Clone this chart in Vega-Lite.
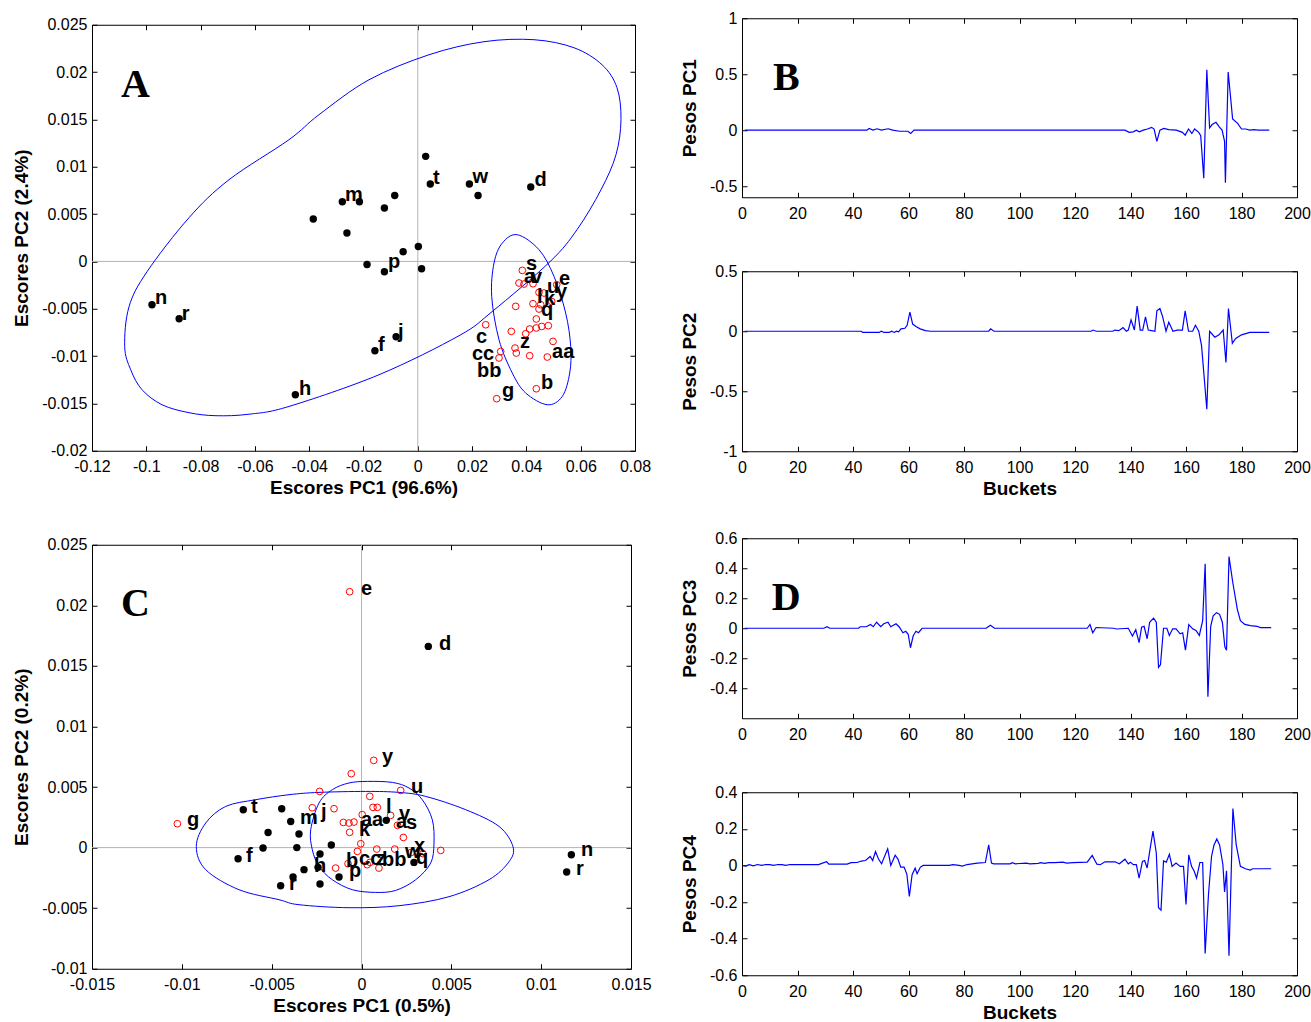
{
  "$schema": "https://vega.github.io/schema/vega-lite/v6.json",
  "padding": {"left": 12, "top": 9, "right": 0, "bottom": 0},
  "background": "white",
  "config": {
    "view": {"stroke": "#000", "strokeWidth": 1},
    "axis": {"domain": false, "grid": false, "ticks": true, "tickSize": -5, "tickColor": "#000", "tickWidth": 1,
      "labelFont": "Liberation Sans", "labelFontSize": 16, "labelColor": "#000",
      "titleFont": "Liberation Sans", "titleFontSize": 19, "titleFontWeight": "bold", "titleColor": "#000",
      "labelFlush": false, "labelOverlap": false},
    "axisX": {"labelPadding": 13, "titlePadding": 4},
    "axisY": {"labelPadding": 10, "titlePadding": 10}
  },
  "datasets": {
    "zero": [{"v": 0}],
    "A_black": [
      {"x": -0.0979, "y": -0.00457}, {"x": -0.0879, "y": -0.00605}, {"x": -0.0451, "y": -0.01408},
      {"x": -0.0158, "y": -0.00943}, {"x": -0.0080, "y": -0.00795}, {"x": -0.0278, "y": 0.0063},
      {"x": -0.0215, "y": 0.0063}, {"x": -0.0385, "y": 0.00448}, {"x": -0.0261, "y": 0.0030},
      {"x": -0.0123, "y": 0.00564}, {"x": -0.0085, "y": 0.00697}, {"x": 0.0029, "y": 0.0111},
      {"x": 0.0046, "y": 0.00818}, {"x": 0.0190, "y": 0.00818}, {"x": 0.0222, "y": 0.00697},
      {"x": 0.0416, "y": 0.00786}, {"x": 0.0002, "y": 0.00158}, {"x": -0.0054, "y": 0.00102},
      {"x": -0.0187, "y": -0.00032}, {"x": -0.0123, "y": -0.00109}, {"x": 0.0014, "y": -0.00077}
    ],
    "A_red": [
      {"x": 0.0385, "y": -0.00095}, {"x": 0.03727, "y": -0.00228}, {"x": 0.03912, "y": -0.00239},
      {"x": 0.04243, "y": -0.00236}, {"x": 0.04464, "y": -0.00327}, {"x": 0.04648, "y": -0.00334},
      {"x": 0.05116, "y": -0.00246}, {"x": 0.04243, "y": -0.00447}, {"x": 0.04527, "y": -0.00457},
      {"x": 0.04932, "y": -0.00423}, {"x": 0.03606, "y": -0.00475}, {"x": 0.04464, "y": -0.00503},
      {"x": 0.04365, "y": -0.00608}, {"x": 0.02501, "y": -0.00669}, {"x": 0.03444, "y": -0.00739},
      {"x": 0.04122, "y": -0.00714}, {"x": 0.04365, "y": -0.00703}, {"x": 0.04564, "y": -0.00687},
      {"x": 0.04807, "y": -0.00679}, {"x": 0.03974, "y": -0.00764}, {"x": 0.0498, "y": -0.00845},
      {"x": 0.0358, "y": -0.00915}, {"x": 0.03628, "y": -0.00968}, {"x": 0.03053, "y": -0.00951},
      {"x": 0.02991, "y": -0.0102}, {"x": 0.04122, "y": -0.00996}, {"x": 0.0477, "y": -0.0101},
      {"x": 0.04365, "y": -0.01345}, {"x": 0.02906, "y": -0.0145}
    ],
    "A_ell": [
      {"e": "g", "i": 1, "x": -0.10796, "y": -0.00898}, {"e": "g", "i": 2, "x": -0.10575, "y": -0.01144},
      {"e": "g", "i": 3, "x": -0.10158, "y": -0.01355}, {"e": "g", "i": 4, "x": -0.09422, "y": -0.01514},
      {"e": "g", "i": 5, "x": -0.08427, "y": -0.01598}, {"e": "g", "i": 6, "x": -0.07433, "y": -0.0163},
      {"e": "g", "i": 7, "x": -0.06217, "y": -0.01614}, {"e": "g", "i": 8, "x": -0.04744, "y": -0.01532},
      {"e": "g", "i": 9, "x": -0.01429, "y": -0.01197}, {"e": "g", "i": 10, "x": 0.01517, "y": -0.00785},
      {"e": "g", "i": 11, "x": 0.02733, "y": -0.00531}, {"e": "g", "i": 12, "x": 0.04869, "y": -0.00003},
      {"e": "g", "i": 13, "x": 0.05864, "y": 0.00335}, {"e": "g", "i": 14, "x": 0.06748, "y": 0.00757},
      {"e": "g", "i": 15, "x": 0.0730, "y": 0.01127}, {"e": "g", "i": 16, "x": 0.07484, "y": 0.01497},
      {"e": "g", "i": 17, "x": 0.07337, "y": 0.01835}, {"e": "g", "i": 18, "x": 0.06785, "y": 0.02078},
      {"e": "g", "i": 19, "x": 0.05753, "y": 0.02257}, {"e": "g", "i": 20, "x": 0.0428, "y": 0.02342},
      {"e": "g", "i": 21, "x": 0.02438, "y": 0.02321}, {"e": "g", "i": 22, "x": 0.00413, "y": 0.02183},
      {"e": "g", "i": 23, "x": -0.01797, "y": 0.01919}, {"e": "g", "i": 24, "x": -0.03639, "y": 0.0155},
      {"e": "g", "i": 25, "x": -0.04744, "y": 0.01286}, {"e": "g", "i": 26, "x": -0.06954, "y": 0.00863},
      {"e": "g", "i": 27, "x": -0.08427, "y": 0.00462}, {"e": "g", "i": 28, "x": -0.09974, "y": -0.00109},
      {"e": "g", "i": 29, "x": -0.10637, "y": -0.00479},
      {"e": "s", "i": 1, "x": 0.03665, "y": 0.00282}, {"e": "s", "i": 2, "x": 0.04464, "y": 0.00124},
      {"e": "s", "i": 3, "x": 0.05017, "y": -0.00158}, {"e": "s", "i": 4, "x": 0.05447, "y": -0.00545},
      {"e": "s", "i": 5, "x": 0.05632, "y": -0.00898}, {"e": "s", "i": 6, "x": 0.05595, "y": -0.01179},
      {"e": "s", "i": 7, "x": 0.05322, "y": -0.01426}, {"e": "s", "i": 8, "x": 0.0477, "y": -0.01514},
      {"e": "s", "i": 9, "x": 0.03974, "y": -0.0139}, {"e": "s", "i": 10, "x": 0.03481, "y": -0.01179},
      {"e": "s", "i": 11, "x": 0.02991, "y": -0.00827}, {"e": "s", "i": 12, "x": 0.02722, "y": -0.0037},
      {"e": "s", "i": 13, "x": 0.02807, "y": -0.00017}, {"e": "s", "i": 14, "x": 0.03112, "y": 0.00194}
    ],
    "A_lab": [
      {"t": "n", "x": -0.0968, "y": -0.00447}, {"t": "r", "x": -0.0869, "y": -0.00616},
      {"t": "h", "x": -0.04376, "y": -0.01408}, {"t": "f", "x": -0.01466, "y": -0.00943},
      {"t": "j", "x": -0.00729, "y": -0.00806}, {"t": "m", "x": -0.02681, "y": 0.00641},
      {"t": "p", "x": -0.01098, "y": -0.00067}, {"t": "t", "x": 0.0056, "y": 0.00821},
      {"t": "w", "x": 0.02011, "y": 0.00831}, {"t": "d", "x": 0.04302, "y": 0.008},
      {"t": "s", "x": 0.03985, "y": -0.00088}, {"t": "a", "x": 0.03911, "y": -0.00225},
      {"t": "v", "x": 0.04169, "y": -0.00225}, {"t": "e", "x": 0.05201, "y": -0.00246},
      {"t": "u", "x": 0.04758, "y": -0.00331}, {"t": "y", "x": 0.0509, "y": -0.00383},
      {"t": "l", "x": 0.0439, "y": -0.00436}, {"t": "k", "x": 0.04648, "y": -0.00457},
      {"t": "q", "x": 0.04538, "y": -0.00574}, {"t": "c", "x": 0.02144, "y": -0.00859},
      {"t": "cc", "x": 0.01996, "y": -0.01038}, {"t": "bb", "x": 0.0218, "y": -0.01218},
      {"t": "g", "x": 0.03101, "y": -0.01429}, {"t": "z", "x": 0.03764, "y": -0.00912},
      {"t": "aa", "x": 0.04943, "y": -0.01017}, {"t": "b", "x": 0.04538, "y": -0.01345}
    ],
    "A_tag": [{"t": "A", "x": -0.1093, "y": 0.0174}],
    "C_black": [
      {"x": -0.00658, "y": 0.00313}, {"x": -0.00444, "y": 0.00321}, {"x": -0.00394, "y": 0.00216},
      {"x": -0.0052, "y": 0.00125}, {"x": -0.00348, "y": 0.00112}, {"x": -0.00687, "y": -0.00092},
      {"x": -0.00548, "y": -0.00003}, {"x": -0.0036, "y": 0.0}, {"x": -0.00168, "y": 0.00021},
      {"x": -0.00231, "y": -0.00053}, {"x": -0.00242, "y": -0.00163}, {"x": -0.0032, "y": -0.00182},
      {"x": -0.00381, "y": -0.00243}, {"x": -0.0045, "y": -0.00315}, {"x": -0.00231, "y": -0.003},
      {"x": -0.00125, "y": -0.00243}, {"x": 0.00138, "y": 0.00225}, {"x": 0.00292, "y": -0.00122},
      {"x": 0.00372, "y": 0.01661}, {"x": 0.01168, "y": -0.00059}, {"x": 0.01142, "y": -0.00201}
    ],
    "C_red": [
      {"x": -0.01025, "y": 0.00197}, {"x": -0.00233, "y": 0.00464}, {"x": -0.00274, "y": 0.00329},
      {"x": -0.00153, "y": 0.00321}, {"x": -0.00144, "y": -0.00169}, {"x": -0.00066, "y": 0.02112},
      {"x": 0.00068, "y": 0.0072}, {"x": -0.00057, "y": 0.0061}, {"x": 0.00218, "y": 0.00472},
      {"x": 0.00046, "y": 0.00423}, {"x": 0.00064, "y": 0.00332}, {"x": 0.00088, "y": 0.00332},
      {"x": 0.00162, "y": 0.00266}, {"x": 0.00004, "y": 0.00272}, {"x": -0.00101, "y": 0.00208},
      {"x": -0.0007, "y": 0.00203}, {"x": -0.00042, "y": 0.00211}, {"x": -0.00066, "y": 0.00126},
      {"x": 0.002, "y": 0.00184}, {"x": 0.00233, "y": 0.00084}, {"x": -0.00004, "y": 0.00032},
      {"x": 0.00441, "y": -0.00023}, {"x": -0.00023, "y": -0.00031}, {"x": 0.00085, "y": -0.00012},
      {"x": 0.00185, "y": -0.00012}, {"x": 0.00277, "y": -0.0004}, {"x": 0.00342, "y": -0.0005},
      {"x": 0.00047, "y": -0.00122}, {"x": 0.00032, "y": -0.00141}, {"x": 0.00097, "y": -0.00169},
      {"x": -0.00075, "y": -0.00133}
    ],
    "C_ell": [
      {"e": "g", "i": 1, "x": -0.009195, "y": 0.0001}, {"e": "g", "i": 2, "x": -0.008671, "y": 0.00203},
      {"e": "g", "i": 3, "x": -0.007558, "y": 0.0034}, {"e": "g", "i": 4, "x": -0.005889, "y": 0.003954},
      {"e": "g", "i": 5, "x": -0.004035, "y": 0.004367}, {"e": "g", "i": 6, "x": -0.002365, "y": 0.004557},
      {"e": "g", "i": 7, "x": 0.000234, "y": 0.004639}, {"e": "g", "i": 8, "x": 0.002087, "y": 0.004557},
      {"e": "g", "i": 9, "x": 0.003573, "y": 0.004227}, {"e": "g", "i": 10, "x": 0.0058, "y": 0.003129},
      {"e": "g", "i": 11, "x": 0.007653, "y": 0.00175}, {"e": "g", "i": 12, "x": 0.008432, "y": 0.000074},
      {"e": "g", "i": 13, "x": 0.00821, "y": -0.001164}, {"e": "g", "i": 14, "x": 0.007096, "y": -0.00265},
      {"e": "g", "i": 15, "x": 0.00487, "y": -0.004053}, {"e": "g", "i": 16, "x": 0.002087, "y": -0.004796},
      {"e": "g", "i": 17, "x": -0.000696, "y": -0.004961}, {"e": "g", "i": 18, "x": -0.003479, "y": -0.004714},
      {"e": "g", "i": 19, "x": -0.004592, "y": -0.004301}, {"e": "g", "i": 20, "x": -0.006818, "y": -0.003475},
      {"e": "g", "i": 21, "x": -0.008671, "y": -0.001824},
      {"e": "s", "i": 1, "x": 0.000323, "y": 0.005465}, {"e": "s", "i": 2, "x": 0.001714, "y": 0.005382},
      {"e": "s", "i": 3, "x": 0.002644, "y": 0.00492}, {"e": "s", "i": 4, "x": 0.003384, "y": 0.003954},
      {"e": "s", "i": 5, "x": 0.003941, "y": 0.002303}, {"e": "s", "i": 6, "x": 0.004035, "y": 0.00038},
      {"e": "s", "i": 7, "x": 0.003852, "y": -0.001271}, {"e": "s", "i": 8, "x": 0.003017, "y": -0.00265},
      {"e": "s", "i": 9, "x": 0.001903, "y": -0.003533}, {"e": "s", "i": 10, "x": 0.00079, "y": -0.003698},
      {"e": "s", "i": 11, "x": -0.000512, "y": -0.003475}, {"e": "s", "i": 12, "x": -0.001625, "y": -0.00265},
      {"e": "s", "i": 13, "x": -0.002365, "y": -0.001552}, {"e": "s", "i": 14, "x": -0.002738, "y": -0.000173},
      {"e": "s", "i": 15, "x": -0.002827, "y": 0.001478}, {"e": "s", "i": 16, "x": -0.002365, "y": 0.003682},
      {"e": "s", "i": 17, "x": -0.001625, "y": 0.00478}, {"e": "s", "i": 18, "x": -0.000696, "y": 0.005333}
    ],
    "C_lab": [
      {"t": "g", "x": -0.009713, "y": 0.001808}, {"t": "t", "x": -0.00615, "y": 0.002881},
      {"t": "m", "x": -0.003423, "y": 0.001973}, {"t": "j", "x": -0.002254, "y": 0.002469},
      {"t": "f", "x": -0.006428, "y": -0.001164}, {"t": "h", "x": -0.002644, "y": -0.001989},
      {"t": "r", "x": -0.004035, "y": -0.003475}, {"t": "e", "x": -0.000028, "y": 0.020876},
      {"t": "d", "x": 0.004314, "y": 0.016339}, {"t": "y", "x": 0.001141, "y": 0.007009},
      {"t": "u", "x": 0.002755, "y": 0.004532}, {"t": "l", "x": 0.001364, "y": 0.002881},
      {"t": "v", "x": 0.002087, "y": 0.002303}, {"t": "a", "x": 0.00192, "y": 0.001644},
      {"t": "s", "x": 0.002477, "y": 0.00156}, {"t": "aa", "x": -0.000028, "y": 0.001808},
      {"t": "k", "x": -0.000139, "y": 0.000983}, {"t": "x", "x": 0.002922, "y": -0.000338},
      {"t": "w", "x": 0.002421, "y": -0.000834}, {"t": "q", "x": 0.003033, "y": -0.001329},
      {"t": "cc", "x": -0.000139, "y": -0.001412}, {"t": "z", "x": 0.000807, "y": -0.001412},
      {"t": "bb", "x": 0.001141, "y": -0.001486}, {"t": "b", "x": -0.000863, "y": -0.001569},
      {"t": "p", "x": -0.000696, "y": -0.002394}, {"t": "n", "x": 0.012217, "y": -0.000669},
      {"t": "r", "x": 0.011939, "y": -0.002237}
    ],
    "C_tag": [{"t": "C", "x": -0.01339, "y": 0.01914}],
    "B_tag": [{"t": "B", "b": 11.2, "v": 0.362}],
    "D_tag": [{"t": "D", "b": 10.75, "v": 0.12}],
    "B1": [
      {"b": 1, "v": 0}, {"b": 45, "v": 0}, {"b": 45.8, "v": 0.015}, {"b": 47.2, "v": 0}, {"b": 48.7, "v": 0.012},
      {"b": 50.2, "v": 0}, {"b": 52.7, "v": 0.012}, {"b": 54.3, "v": 0}, {"b": 56.8, "v": -0.01}, {"b": 59.8, "v": -0.01},
      {"b": 60.8, "v": -0.03}, {"b": 62, "v": 0}, {"b": 138, "v": 0}, {"b": 139.5, "v": -0.02}, {"b": 141, "v": -0.015},
      {"b": 142.1, "v": 0}, {"b": 143.2, "v": -0.015}, {"b": 144.6, "v": 0}, {"b": 146.1, "v": 0.01}, {"b": 147.6, "v": 0.025},
      {"b": 148.5, "v": 0.01}, {"b": 149.5, "v": -0.1}, {"b": 150.6, "v": 0}, {"b": 152, "v": 0.015}, {"b": 153.8, "v": 0.005},
      {"b": 156.5, "v": 0}, {"b": 158.7, "v": -0.02}, {"b": 159.7, "v": -0.045}, {"b": 160.9, "v": 0.01}, {"b": 162.1, "v": -0.03},
      {"b": 163.1, "v": 0.01}, {"b": 164.6, "v": -0.02}, {"b": 165.3, "v": -0.05}, {"b": 166.4, "v": -0.43}, {"b": 167.5, "v": 0.54},
      {"b": 168.5, "v": 0.02}, {"b": 169.4, "v": 0.05}, {"b": 170.8, "v": 0.07}, {"b": 172, "v": 0.03}, {"b": 173, "v": 0},
      {"b": 173.9, "v": -0.1}, {"b": 174.2, "v": -0.47}, {"b": 175.2, "v": 0.52}, {"b": 176.8, "v": 0.1}, {"b": 178.6, "v": 0.06},
      {"b": 180, "v": 0.01}, {"b": 181.5, "v": 0.01}, {"b": 183, "v": 0}, {"b": 184.5, "v": 0.005}, {"b": 186, "v": 0}, {"b": 190, "v": 0}
    ],
    "B2": [
      {"b": 1, "v": 0}, {"b": 43, "v": 0}, {"b": 43.5, "v": -0.01}, {"b": 49.4, "v": -0.01}, {"b": 50.2, "v": 0},
      {"b": 51.2, "v": -0.01}, {"b": 53.1, "v": -0.01}, {"b": 53.9, "v": 0}, {"b": 54.9, "v": -0.01}, {"b": 55.6, "v": 0},
      {"b": 56.4, "v": -0.005}, {"b": 57.3, "v": 0.02}, {"b": 58.7, "v": 0.025}, {"b": 59.5, "v": 0.05}, {"b": 60.5, "v": 0.16},
      {"b": 61.5, "v": 0.06}, {"b": 62.7, "v": 0.04}, {"b": 64.2, "v": 0.02}, {"b": 66.1, "v": 0.005}, {"b": 67.9, "v": 0},
      {"b": 88.9, "v": 0}, {"b": 89.6, "v": 0.02}, {"b": 90.8, "v": 0}, {"b": 125.8, "v": 0}, {"b": 126.5, "v": 0.01},
      {"b": 127.7, "v": 0}, {"b": 133.6, "v": 0}, {"b": 134.3, "v": 0.01}, {"b": 135.8, "v": 0.005}, {"b": 137.3, "v": 0.03},
      {"b": 138.5, "v": 0}, {"b": 139.2, "v": 0.01}, {"b": 140.2, "v": 0.095}, {"b": 141.4, "v": 0.01}, {"b": 142.4, "v": 0.21},
      {"b": 143.5, "v": 0.01}, {"b": 144.4, "v": 0.01}, {"b": 145.4, "v": 0.12}, {"b": 146.4, "v": 0.01}, {"b": 147.6, "v": 0.005},
      {"b": 148.8, "v": 0}, {"b": 149.5, "v": 0.17}, {"b": 150.6, "v": 0.19}, {"b": 151.6, "v": 0.12}, {"b": 152.8, "v": 0},
      {"b": 153.8, "v": 0.075}, {"b": 155.3, "v": 0}, {"b": 156.8, "v": 0.01}, {"b": 158.7, "v": 0.01}, {"b": 159.7, "v": 0.17},
      {"b": 160.9, "v": 0}, {"b": 162.4, "v": 0}, {"b": 163.4, "v": 0.05}, {"b": 164.6, "v": 0}, {"b": 165.6, "v": -0.12},
      {"b": 167.5, "v": -0.65}, {"b": 168.5, "v": 0}, {"b": 170.4, "v": -0.05}, {"b": 171.9, "v": -0.03}, {"b": 173.4, "v": 0.01},
      {"b": 174.4, "v": -0.26}, {"b": 175.3, "v": 0.19}, {"b": 176.7, "v": -0.1}, {"b": 177.9, "v": -0.06}, {"b": 180, "v": -0.03},
      {"b": 183, "v": -0.01}, {"b": 190, "v": -0.01}
    ],
    "D1": [
      {"b": 1, "v": 0}, {"b": 29.5, "v": 0}, {"b": 30.6, "v": 0.01}, {"b": 31.6, "v": 0}, {"b": 42, "v": 0},
      {"b": 42.6, "v": 0.01}, {"b": 44.8, "v": 0.01}, {"b": 46.3, "v": 0.025}, {"b": 47.3, "v": 0.01}, {"b": 48.5, "v": 0.04},
      {"b": 50, "v": 0.01}, {"b": 51.1, "v": 0.03}, {"b": 52.6, "v": 0.04}, {"b": 53.6, "v": 0.01}, {"b": 55.5, "v": 0.03},
      {"b": 56.6, "v": 0.01}, {"b": 58, "v": -0.03}, {"b": 59, "v": -0.02}, {"b": 59.9, "v": -0.04}, {"b": 60.7, "v": -0.13},
      {"b": 61.7, "v": -0.05}, {"b": 62.7, "v": -0.02}, {"b": 63.6, "v": -0.03}, {"b": 64.9, "v": 0}, {"b": 88, "v": 0},
      {"b": 89.5, "v": 0.02}, {"b": 91, "v": 0}, {"b": 124.4, "v": 0}, {"b": 125.4, "v": 0.025}, {"b": 126.4, "v": -0.03},
      {"b": 127.6, "v": 0.005}, {"b": 133.8, "v": 0}, {"b": 135, "v": -0.005}, {"b": 139.2, "v": 0}, {"b": 140.7, "v": -0.052},
      {"b": 141.9, "v": -0.01}, {"b": 143.1, "v": -0.096}, {"b": 144, "v": 0.007}, {"b": 144.9, "v": 0.013}, {"b": 146, "v": -0.07},
      {"b": 146.9, "v": 0.04}, {"b": 148.3, "v": 0.067}, {"b": 149.3, "v": 0.04}, {"b": 150.1, "v": -0.26}, {"b": 150.8, "v": -0.243},
      {"b": 151.9, "v": 0}, {"b": 153.1, "v": 0}, {"b": 154, "v": -0.048}, {"b": 155.2, "v": -0.004}, {"b": 156.4, "v": -0.004},
      {"b": 157.9, "v": -0.037}, {"b": 158.8, "v": -0.03}, {"b": 159.8, "v": -0.146}, {"b": 161, "v": 0.024}, {"b": 162.4, "v": -0.004},
      {"b": 163.6, "v": -0.015}, {"b": 164.8, "v": -0.048}, {"b": 166, "v": 0.05}, {"b": 166.9, "v": 0.43}, {"b": 167.9, "v": -0.457},
      {"b": 168.9, "v": 0.013}, {"b": 169.8, "v": 0.083}, {"b": 171, "v": 0.104}, {"b": 172.1, "v": 0.093}, {"b": 173.1, "v": 0.04},
      {"b": 174, "v": -0.124}, {"b": 174.6, "v": -0.146}, {"b": 175.5, "v": 0.478}, {"b": 176.9, "v": 0.3}, {"b": 178.5, "v": 0.126},
      {"b": 179.6, "v": 0.05}, {"b": 181.2, "v": 0.026}, {"b": 183.2, "v": 0.017}, {"b": 185.6, "v": 0.013}, {"b": 186.8, "v": 0.004},
      {"b": 190.7, "v": 0.004}
    ],
    "D2": [
      {"b": 0.5, "v": 0}, {"b": 1.2, "v": -0.004}, {"b": 2.6, "v": 0.004}, {"b": 4.1, "v": -0.002}, {"b": 5.6, "v": 0.005},
      {"b": 7, "v": 0}, {"b": 8.5, "v": 0.005}, {"b": 10, "v": 0.004}, {"b": 11.4, "v": 0}, {"b": 12.9, "v": 0.005},
      {"b": 14.4, "v": 0.004}, {"b": 15.8, "v": 0}, {"b": 17.3, "v": 0.005}, {"b": 27.6, "v": 0.005}, {"b": 29, "v": 0.013},
      {"b": 30.5, "v": 0.02}, {"b": 31.3, "v": 0.007}, {"b": 37.9, "v": 0.007}, {"b": 39.3, "v": 0.015}, {"b": 41.5, "v": 0.016},
      {"b": 43, "v": 0.024}, {"b": 44.5, "v": 0.027}, {"b": 46.2, "v": 0.049}, {"b": 47.1, "v": 0.027}, {"b": 48.1, "v": 0.076},
      {"b": 49.2, "v": 0.035}, {"b": 50.3, "v": 0.009}, {"b": 52.5, "v": 0.091}, {"b": 53.6, "v": 0}, {"b": 55.2, "v": 0.056},
      {"b": 56.2, "v": 0.035}, {"b": 57.2, "v": -0.009}, {"b": 58.4, "v": -0.009}, {"b": 59.4, "v": -0.047}, {"b": 60.3, "v": -0.169},
      {"b": 61.3, "v": -0.051}, {"b": 62.4, "v": -0.015}, {"b": 63.1, "v": -0.045}, {"b": 64.3, "v": -0.009}, {"b": 65.3, "v": 0},
      {"b": 74.8, "v": 0}, {"b": 76, "v": 0.004}, {"b": 78.2, "v": 0}, {"b": 79.4, "v": -0.004}, {"b": 81.1, "v": 0.005},
      {"b": 84.8, "v": 0.013}, {"b": 87.7, "v": 0.016}, {"b": 88.9, "v": 0.113}, {"b": 89.9, "v": 0.013}, {"b": 90.7, "v": 0.009},
      {"b": 96.6, "v": 0.009}, {"b": 97.4, "v": 0.015}, {"b": 98.5, "v": 0.009}, {"b": 102.4, "v": 0.013}, {"b": 103.8, "v": 0.009},
      {"b": 106.8, "v": 0.011}, {"b": 107.6, "v": 0.015}, {"b": 109, "v": 0.011}, {"b": 110.5, "v": 0.015}, {"b": 112.7, "v": 0.015},
      {"b": 115.6, "v": 0.018}, {"b": 117, "v": 0.013}, {"b": 119.3, "v": 0.015}, {"b": 124.4, "v": 0.018}, {"b": 126.2, "v": 0.055},
      {"b": 127.9, "v": 0.007}, {"b": 129.1, "v": 0.004}, {"b": 130.8, "v": 0.02}, {"b": 134.4, "v": 0.02}, {"b": 136, "v": 0.009},
      {"b": 138, "v": 0.034}, {"b": 139.2, "v": 0.009}, {"b": 140, "v": 0.018}, {"b": 141, "v": 0.004}, {"b": 142.1, "v": 0.004},
      {"b": 143.1, "v": -0.069}, {"b": 144.3, "v": 0.022}, {"b": 145.1, "v": 0.027}, {"b": 146, "v": -0.014}, {"b": 146.9, "v": 0.076},
      {"b": 148.1, "v": 0.188}, {"b": 149.3, "v": 0.067}, {"b": 150.1, "v": -0.231}, {"b": 151, "v": -0.244}, {"b": 151.9, "v": 0.025},
      {"b": 152.9, "v": 0.018}, {"b": 154, "v": 0.061}, {"b": 155, "v": -0.005}, {"b": 156.4, "v": 0.013}, {"b": 157.9, "v": -0.005},
      {"b": 159.1, "v": -0.005}, {"b": 160, "v": -0.213}, {"b": 161, "v": 0.058}, {"b": 162, "v": -0.005}, {"b": 163, "v": -0.033},
      {"b": 163.8, "v": -0.069}, {"b": 165, "v": 0.016}, {"b": 166, "v": 0.016}, {"b": 166.9, "v": -0.481}, {"b": 168.1, "v": -0.159},
      {"b": 169.2, "v": 0.049}, {"b": 170.1, "v": 0.112}, {"b": 171.1, "v": 0.145}, {"b": 172.1, "v": 0.112}, {"b": 173.3, "v": 0.004},
      {"b": 173.9, "v": -0.145}, {"b": 174.6, "v": -0.029}, {"b": 175.5, "v": -0.494}, {"b": 176.9, "v": 0.311}, {"b": 178.1, "v": 0.112},
      {"b": 179.6, "v": -0.005}, {"b": 181.4, "v": -0.018}, {"b": 183.2, "v": -0.025}, {"b": 184, "v": -0.018}, {"b": 190.7, "v": -0.018}
    ]
  },
  "center": true,
  "hconcat": [
    {
      "vconcat": [
        {
          "width": 543, "height": 426,
          "resolve": {"axis": {"x": "independent", "y": "independent"}},
          "layer": [
            {"data": {"name": "zero"}, "mark": {"type": "rule", "color": "#b4b4b4", "strokeWidth": 1},
             "encoding": {"x": {"field": "v", "type": "quantitative", "axis": null, "scale": {"domain": [-0.12, 0.08], "nice": false, "zero": false}}}},
            {"data": {"name": "zero"}, "mark": {"type": "rule", "color": "#b4b4b4", "strokeWidth": 1},
             "encoding": {"y": {"field": "v", "type": "quantitative", "axis": null, "scale": {"domain": [-0.02, 0.025], "nice": false, "zero": false}}}},
            {"data": {"name": "A_ell"}, "mark": {"type": "line", "color": "#0000ff", "strokeWidth": 1, "interpolate": "cardinal-closed"},
             "encoding": {"x": {"field": "x", "type": "quantitative", "axis": null}, "y": {"field": "y", "type": "quantitative", "axis": null},
               "order": {"field": "i", "type": "quantitative"}, "detail": {"field": "e", "type": "nominal"}}},
            {"data": {"name": "A_red"}, "mark": {"type": "point", "shape": "circle", "filled": false, "color": "#ff0000", "size": 45, "strokeWidth": 1, "opacity": 1},
             "encoding": {"x": {"field": "x", "type": "quantitative", "axis": null}, "y": {"field": "y", "type": "quantitative", "axis": null}}},
            {"data": {"name": "A_black"}, "mark": {"type": "point", "shape": "circle", "filled": true, "color": "#000000", "size": 55, "opacity": 1},
             "encoding": {
               "x": {"field": "x", "type": "quantitative", "title": "Escores PC1 (96.6%)",
                 "axis": {"values": [-0.12, -0.1, -0.08, -0.06, -0.04, -0.02, 0, 0.02, 0.04, 0.06, 0.08],
                   "labelExpr": "datum.value < 0 ? '-' + format(-datum.value, '~f') : format(datum.value, '~f')"}},
               "y": {"field": "y", "type": "quantitative", "title": "Escores PC2 (2.4%)",
                 "axis": {"values": [-0.02, -0.015, -0.01, -0.005, 0, 0.005, 0.01, 0.015, 0.02, 0.025],
                   "labelExpr": "datum.value < 0 ? '-' + format(-datum.value, '~f') : format(datum.value, '~f')"}}}},
            {"data": {"name": "A_black"}, "mark": {"type": "point", "opacity": 0},
             "encoding": {
               "x": {"field": "x", "type": "quantitative", "axis": {"orient": "top", "labels": false, "title": null, "values": [-0.12, -0.1, -0.08, -0.06, -0.04, -0.02, 0, 0.02, 0.04, 0.06, 0.08]}},
               "y": {"field": "y", "type": "quantitative", "axis": {"orient": "right", "labels": false, "title": null, "values": [-0.02, -0.015, -0.01, -0.005, 0, 0.005, 0.01, 0.015, 0.02, 0.025]}}}},
            {"data": {"name": "A_lab"}, "mark": {"type": "text", "font": "Liberation Sans", "fontWeight": "bold", "fontSize": 20, "align": "left", "baseline": "alphabetic", "color": "#000"},
             "encoding": {"x": {"field": "x", "type": "quantitative", "axis": null}, "y": {"field": "y", "type": "quantitative", "axis": null}, "text": {"field": "t"}}},
            {"data": {"name": "A_tag"}, "mark": {"type": "text", "font": "Liberation Serif", "fontWeight": "bold", "fontSize": 40, "align": "left", "baseline": "alphabetic", "color": "#000"},
             "encoding": {"x": {"field": "x", "type": "quantitative", "axis": null}, "y": {"field": "y", "type": "quantitative", "axis": null}, "text": {"field": "t"}}}
          ]
        },
        {
          "width": 539, "height": 424,
          "resolve": {"axis": {"x": "independent", "y": "independent"}},
          "layer": [
            {"data": {"name": "zero"}, "mark": {"type": "rule", "color": "#b4b4b4", "strokeWidth": 1},
             "encoding": {"x": {"field": "v", "type": "quantitative", "axis": null, "scale": {"domain": [-0.015, 0.015], "nice": false, "zero": false}}}},
            {"data": {"name": "zero"}, "mark": {"type": "rule", "color": "#b4b4b4", "strokeWidth": 1},
             "encoding": {"y": {"field": "v", "type": "quantitative", "axis": null, "scale": {"domain": [-0.01, 0.025], "nice": false, "zero": false}}}},
            {"data": {"name": "C_ell"}, "mark": {"type": "line", "color": "#0000ff", "strokeWidth": 1, "interpolate": "cardinal-closed"},
             "encoding": {"x": {"field": "x", "type": "quantitative", "axis": null}, "y": {"field": "y", "type": "quantitative", "axis": null},
               "order": {"field": "i", "type": "quantitative"}, "detail": {"field": "e", "type": "nominal"}}},
            {"data": {"name": "C_red"}, "mark": {"type": "point", "shape": "circle", "filled": false, "color": "#ff0000", "size": 45, "strokeWidth": 1, "opacity": 1},
             "encoding": {"x": {"field": "x", "type": "quantitative", "axis": null}, "y": {"field": "y", "type": "quantitative", "axis": null}}},
            {"data": {"name": "C_black"}, "mark": {"type": "point", "shape": "circle", "filled": true, "color": "#000000", "size": 55, "opacity": 1},
             "encoding": {
               "x": {"field": "x", "type": "quantitative", "title": "Escores PC1 (0.5%)",
                 "axis": {"values": [-0.015, -0.01, -0.005, 0, 0.005, 0.01, 0.015],
                   "labelExpr": "datum.value < 0 ? '-' + format(-datum.value, '~f') : format(datum.value, '~f')"}},
               "y": {"field": "y", "type": "quantitative", "title": "Escores PC2 (0.2%)",
                 "axis": {"values": [-0.01, -0.005, 0, 0.005, 0.01, 0.015, 0.02, 0.025],
                   "labelExpr": "datum.value < 0 ? '-' + format(-datum.value, '~f') : format(datum.value, '~f')"}}}},
            {"data": {"name": "C_black"}, "mark": {"type": "point", "opacity": 0},
             "encoding": {
               "x": {"field": "x", "type": "quantitative", "axis": {"orient": "top", "labels": false, "title": null, "values": [-0.015, -0.01, -0.005, 0, 0.005, 0.01, 0.015]}},
               "y": {"field": "y", "type": "quantitative", "axis": {"orient": "right", "labels": false, "title": null, "values": [-0.01, -0.005, 0, 0.005, 0.01, 0.015, 0.02, 0.025]}}}},
            {"data": {"name": "C_lab"}, "mark": {"type": "text", "font": "Liberation Sans", "fontWeight": "bold", "fontSize": 20, "align": "left", "baseline": "alphabetic", "color": "#000"},
             "encoding": {"x": {"field": "x", "type": "quantitative", "axis": null}, "y": {"field": "y", "type": "quantitative", "axis": null}, "text": {"field": "t"}}},
            {"data": {"name": "C_tag"}, "mark": {"type": "text", "font": "Liberation Serif", "fontWeight": "bold", "fontSize": 40, "align": "left", "baseline": "alphabetic", "color": "#000"},
             "encoding": {"x": {"field": "x", "type": "quantitative", "axis": null}, "y": {"field": "y", "type": "quantitative", "axis": null}, "text": {"field": "t"}}}
          ]
        }
      ],
      "spacing": 37
    },
    {
      "vconcat": [
        {
          "vconcat": [
            {
              "width": 555, "height": 179,
              "resolve": {"axis": {"x": "independent", "y": "independent"}},
              "layer": [
                {"data": {"name": "B1"}, "mark": {"type": "line", "color": "#0000ff", "strokeWidth": 1.2},
                 "encoding": {
                   "x": {"field": "b", "type": "quantitative", "title": null, "scale": {"domain": [0, 200], "nice": false, "zero": false},
                     "axis": {"values": [0, 20, 40, 60, 80, 100, 120, 140, 160, 180, 200]}},
                   "y": {"field": "v", "type": "quantitative", "title": "Pesos PC1", "scale": {"domain": [-0.6, 1], "nice": false, "zero": false},
                     "axis": {"values": [-0.5, 0, 0.5, 1], "labelExpr": "datum.value < 0 ? '-' + format(-datum.value, '~f') : format(datum.value, '~f')"}}}},
                {"data": {"name": "B1"}, "mark": {"type": "point", "opacity": 0},
                 "encoding": {
                   "x": {"field": "b", "type": "quantitative", "axis": {"orient": "top", "labels": false, "title": null, "values": [0, 20, 40, 60, 80, 100, 120, 140, 160, 180, 200]}},
                   "y": {"field": "v", "type": "quantitative", "axis": {"orient": "right", "labels": false, "title": null, "values": [-0.5, 0, 0.5, 1]}}}},
                {"data": {"name": "B_tag"}, "mark": {"type": "text", "font": "Liberation Serif", "fontWeight": "bold", "fontSize": 40, "align": "left", "baseline": "alphabetic", "color": "#000"},
                 "encoding": {"x": {"field": "b", "type": "quantitative", "axis": null}, "y": {"field": "v", "type": "quantitative", "axis": null}, "text": {"field": "t"}}}
              ]
            },
            {
              "width": 555, "height": 180,
              "resolve": {"axis": {"x": "independent", "y": "independent"}},
              "layer": [
                {"data": {"name": "B2"}, "mark": {"type": "line", "color": "#0000ff", "strokeWidth": 1.2},
                 "encoding": {
                   "x": {"field": "b", "type": "quantitative", "title": "Buckets", "scale": {"domain": [0, 200], "nice": false, "zero": false},
                     "axis": {"values": [0, 20, 40, 60, 80, 100, 120, 140, 160, 180, 200]}},
                   "y": {"field": "v", "type": "quantitative", "title": "Pesos PC2", "scale": {"domain": [-1, 0.5], "nice": false, "zero": false},
                     "axis": {"values": [-1, -0.5, 0, 0.5], "labelExpr": "datum.value < 0 ? '-' + format(-datum.value, '~f') : format(datum.value, '~f')"}}}},
                {"data": {"name": "B2"}, "mark": {"type": "point", "opacity": 0},
                 "encoding": {
                   "x": {"field": "b", "type": "quantitative", "axis": {"orient": "top", "labels": false, "title": null, "values": [0, 20, 40, 60, 80, 100, 120, 140, 160, 180, 200]}},
                   "y": {"field": "v", "type": "quantitative", "axis": {"orient": "right", "labels": false, "title": null, "values": [-1, -0.5, 0, 0.5]}}}}
              ]
            }
          ],
          "spacing": 40
        },
        {
          "vconcat": [
            {
              "width": 555, "height": 180,
              "resolve": {"axis": {"x": "independent", "y": "independent"}},
              "layer": [
                {"data": {"name": "D1"}, "mark": {"type": "line", "color": "#0000ff", "strokeWidth": 1.2},
                 "encoding": {
                   "x": {"field": "b", "type": "quantitative", "title": null, "scale": {"domain": [0, 200], "nice": false, "zero": false},
                     "axis": {"values": [0, 20, 40, 60, 80, 100, 120, 140, 160, 180, 200]}},
                   "y": {"field": "v", "type": "quantitative", "title": "Pesos PC3", "scale": {"domain": [-0.6, 0.6], "nice": false, "zero": false},
                     "axis": {"values": [-0.4, -0.2, 0, 0.2, 0.4, 0.6], "labelExpr": "datum.value < 0 ? '-' + format(-datum.value, '~f') : format(datum.value, '~f')"}}}},
                {"data": {"name": "D1"}, "mark": {"type": "point", "opacity": 0},
                 "encoding": {
                   "x": {"field": "b", "type": "quantitative", "axis": {"orient": "top", "labels": false, "title": null, "values": [0, 20, 40, 60, 80, 100, 120, 140, 160, 180, 200]}},
                   "y": {"field": "v", "type": "quantitative", "axis": {"orient": "right", "labels": false, "title": null, "values": [-0.4, -0.2, 0, 0.2, 0.4, 0.6]}}}},
                {"data": {"name": "D_tag"}, "mark": {"type": "text", "font": "Liberation Serif", "fontWeight": "bold", "fontSize": 40, "align": "left", "baseline": "alphabetic", "color": "#000"},
                 "encoding": {"x": {"field": "b", "type": "quantitative", "axis": null}, "y": {"field": "v", "type": "quantitative", "axis": null}, "text": {"field": "t"}}}
              ]
            },
            {
              "width": 555, "height": 183,
              "resolve": {"axis": {"x": "independent", "y": "independent"}},
              "layer": [
                {"data": {"name": "D2"}, "mark": {"type": "line", "color": "#0000ff", "strokeWidth": 1.2},
                 "encoding": {
                   "x": {"field": "b", "type": "quantitative", "title": "Buckets", "scale": {"domain": [0, 200], "nice": false, "zero": false},
                     "axis": {"values": [0, 20, 40, 60, 80, 100, 120, 140, 160, 180, 200]}},
                   "y": {"field": "v", "type": "quantitative", "title": "Pesos PC4", "scale": {"domain": [-0.6, 0.4], "nice": false, "zero": false},
                     "axis": {"values": [-0.6, -0.4, -0.2, 0, 0.2, 0.4], "labelExpr": "datum.value < 0 ? '-' + format(-datum.value, '~f') : format(datum.value, '~f')"}}}},
                {"data": {"name": "D2"}, "mark": {"type": "point", "opacity": 0},
                 "encoding": {
                   "x": {"field": "b", "type": "quantitative", "axis": {"orient": "top", "labels": false, "title": null, "values": [0, 20, 40, 60, 80, 100, 120, 140, 160, 180, 200]}},
                   "y": {"field": "v", "type": "quantitative", "axis": {"orient": "right", "labels": false, "title": null, "values": [-0.6, -0.4, -0.2, 0, 0.2, 0.4]}}}}
              ]
            }
          ],
          "spacing": 40
        }
      ],
      "spacing": 30
    }
  ],
  "spacing": 27
}
